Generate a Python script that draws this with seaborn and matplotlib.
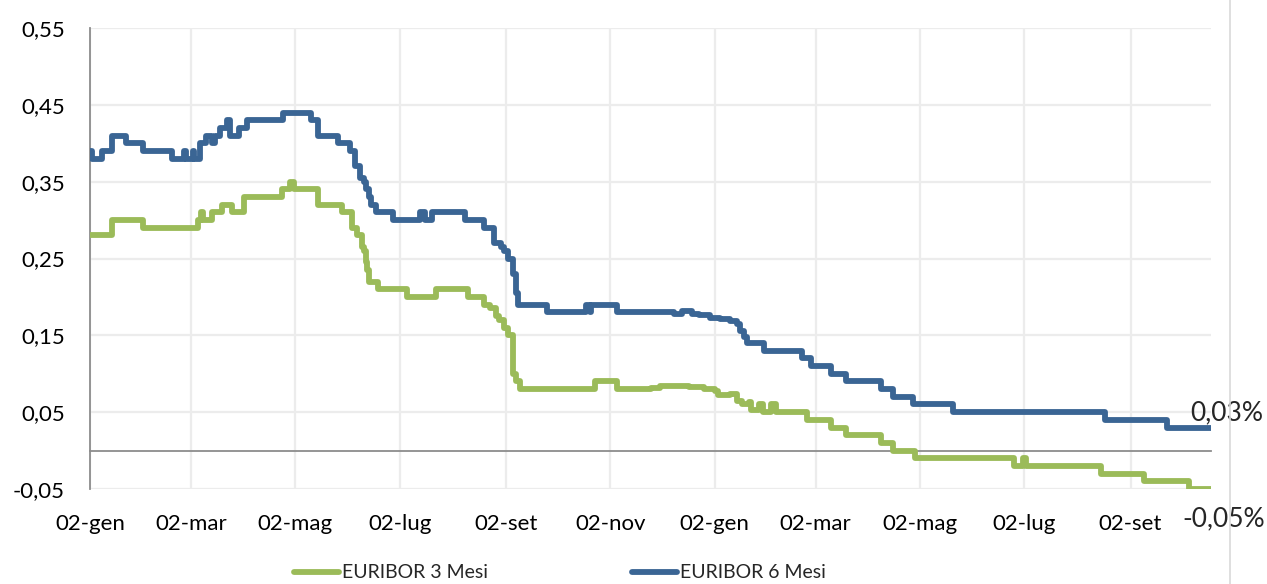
import matplotlib
matplotlib.use("Agg")
import matplotlib.pyplot as plt
import matplotlib.lines as mlines
import numpy as np
import pandas as pd
import seaborn as sns

# EURIBOR 6 Mesi (livelli, date di cambio)
blue_dates = ["2014-01-02", "2014-01-03", "2014-01-09", "2014-01-15", "2014-01-23", "2014-02-02",
              "2014-02-19", "2014-02-26", "2014-02-27", "2014-03-03", "2014-03-04", "2014-03-07",
              "2014-03-11", "2014-03-14", "2014-03-16", "2014-03-19", "2014-03-23", "2014-03-25",
              "2014-03-30", "2014-04-04", "2014-04-25", "2014-05-11", "2014-05-15", "2014-05-27",
              "2014-06-03", "2014-06-06", "2014-06-09", "2014-06-11", "2014-06-12", "2014-06-14",
              "2014-06-15", "2014-06-18", "2014-06-28", "2014-07-14", "2014-07-17", "2014-07-21",
              "2014-08-09", "2014-08-20", "2014-08-26", "2014-08-30", "2014-09-01", "2014-09-03",
              "2014-09-06", "2014-09-08", "2014-09-09", "2014-09-26", "2014-10-19", "2014-10-21",
              "2014-10-22", "2014-11-06", "2014-12-04", "2014-12-09", "2014-12-14", "2014-12-20",
              "2014-12-24", "2014-12-30", "2015-01-05", "2015-01-11", "2015-01-15", "2015-01-17",
              "2015-01-19", "2015-01-21", "2015-01-31", "2015-02-22", "2015-02-27", "2015-03-11",
              "2015-03-20", "2015-04-09", "2015-04-16", "2015-04-28", "2015-05-21", "2015-08-18",
              "2015-09-23", "2015-10-19"]
blue_vals = [0.39, 0.38, 0.39, 0.41, 0.40, 0.39,
             0.38, 0.39, 0.38, 0.39, 0.38, 0.40,
             0.41, 0.40, 0.41, 0.42, 0.43, 0.41,
             0.42, 0.43, 0.44, 0.43, 0.41, 0.40,
             0.39, 0.37, 0.355, 0.35, 0.34, 0.33,
             0.32, 0.31, 0.30, 0.31, 0.30, 0.31,
             0.30, 0.29, 0.27, 0.265, 0.26, 0.25,
             0.23, 0.205, 0.19, 0.18, 0.19, 0.18,
             0.19, 0.18, 0.181, 0.178, 0.182, 0.178,
             0.176, 0.173, 0.171, 0.169, 0.165, 0.155,
             0.148, 0.14, 0.13, 0.12, 0.11, 0.10,
             0.09, 0.08, 0.07, 0.06, 0.05, 0.04,
             0.03, 0.03]

# EURIBOR 3 Mesi
green_dates = ["2014-01-02", "2014-01-15", "2014-02-02", "2014-03-06", "2014-03-08", "2014-03-09",
               "2014-03-14", "2014-03-20", "2014-03-26", "2014-04-02", "2014-04-24", "2014-04-29",
               "2014-05-01", "2014-05-15", "2014-05-29", "2014-06-04", "2014-06-07", "2014-06-10",
               "2014-06-11", "2014-06-12", "2014-06-13", "2014-06-14", "2014-06-19", "2014-07-06",
               "2014-07-23", "2014-08-11", "2014-08-20", "2014-08-24", "2014-08-27", "2014-08-29",
               "2014-09-01", "2014-09-03", "2014-09-06", "2014-09-08", "2014-09-10", "2014-10-24",
               "2014-11-06", "2014-11-26", "2014-12-01", "2014-12-18", "2014-12-27", "2015-01-02",
               "2015-01-04", "2015-01-11", "2015-01-15", "2015-01-18", "2015-01-22", "2015-01-23",
               "2015-01-28", "2015-01-30", "2015-02-04", "2015-02-07", "2015-02-25", "2015-03-11",
               "2015-03-20", "2015-04-09", "2015-04-16", "2015-04-29", "2015-06-26", "2015-07-01",
               "2015-07-03", "2015-08-16", "2015-09-10", "2015-10-06", "2015-10-19"]
green_vals = [0.28, 0.30, 0.29, 0.30, 0.31, 0.30,
              0.31, 0.32, 0.31, 0.33, 0.34, 0.35,
              0.34, 0.32, 0.31, 0.29, 0.28, 0.265,
              0.26, 0.245, 0.235, 0.22, 0.21, 0.20,
              0.21, 0.20, 0.19, 0.185, 0.175, 0.17,
              0.16, 0.15, 0.10, 0.09, 0.08, 0.09,
              0.08, 0.082, 0.084, 0.083, 0.08, 0.077,
              0.072, 0.074, 0.065, 0.06, 0.063, 0.053,
              0.06, 0.05, 0.06, 0.05, 0.04, 0.03,
              0.02, 0.01, 0.0, -0.01, -0.02, -0.01,
              -0.02, -0.03, -0.04, -0.05, -0.05]

series_names = ["EURIBOR 3 Mesi", "EURIBOR 6 Mesi"]
colors = ["#9BBB59", "#3A6594"]

tick_dates = ["2014-01-02", "2014-03-02", "2014-05-02", "2014-07-02", "2014-09-02", "2014-11-02",
              "2015-01-02", "2015-03-02", "2015-05-02", "2015-07-02", "2015-09-02"]
tick_labels = ["02-gen", "02-mar", "02-mag", "02-lug", "02-set", "02-nov",
               "02-gen", "02-mar", "02-mag", "02-lug", "02-set"]
y_ticks = [-0.05, 0.05, 0.15, 0.25, 0.35, 0.45, 0.55]

df = pd.concat([
    pd.DataFrame({"data": pd.to_datetime(green_dates), "valore": green_vals, "serie": series_names[0]}),
    pd.DataFrame({"data": pd.to_datetime(blue_dates), "valore": blue_vals, "serie": series_names[1]}),
], ignore_index=True)

sns.set_style("white")
plt.rcParams['font.family'] = ['Lato', 'DejaVu Sans']

W, H = 1267, 584
fig = plt.figure(figsize=(W / 100, H / 100), dpi=100)
ax = fig.add_axes([90 / W, 1 - 489 / H, (1211 - 90) / W, (489 - 28) / H])

sns.lineplot(data=df, x="data", y="valore", hue="serie", palette=colors,
             estimator=None, sort=False, drawstyle="steps-post",
             linewidth=4, ax=ax, zorder=3)
for ln in ax.lines:
    ln.set_linewidth(4.2)
    ln.set_solid_joinstyle("round")

ax.set_xlim(pd.Timestamp(green_dates[0]), pd.Timestamp(green_dates[-1]))
ax.set_ylim(-0.05, 0.55)
ax.set_yticks(y_ticks)
ax.set_yticklabels([f"{v:.2f}".replace(".", ",") for v in y_ticks])
ax.set_xticks(pd.to_datetime(tick_dates))
ax.set_xticklabels(tick_labels)
ax.set_xlabel("")
ax.set_ylabel("")

# griglia
ax.grid(True, color="#ececec", linewidth=1.6, zorder=0)
ax.set_axisbelow(True)

for s in ["top", "right"]:
    ax.spines[s].set_visible(False)
ax.spines["left"].set_color("#8c8c8c")
ax.spines["left"].set_linewidth(1.3)
ax.spines["bottom"].set_position(("data", 0))
ax.spines["bottom"].set_color("#8c8c8c")
ax.spines["bottom"].set_linewidth(1.3)

ax.tick_params(axis="y", direction="out", length=6, width=1.2, color="#8c8c8c",
               labelsize=16, pad=12, labelcolor="black")
ax.tick_params(axis="x", direction="out", length=6, width=1.2, color="#8c8c8c",
               labelsize=16, pad=40, labelcolor="black")

# etichette ultimo valore
last_6 = blue_vals[-1]
last_3 = green_vals[-1]
ax.annotate(f"{last_6:.2f}%".replace(".", ","), (pd.Timestamp(blue_dates[-1]), last_6),
            xytext=(16, 15), textcoords="offset pixels", ha="center", va="center",
            fontsize=19, annotation_clip=False)
ax.annotate(f"{last_3:.2f}%".replace(".", ","), (pd.Timestamp(green_dates[-1]), last_3),
            xytext=(13, -30), textcoords="offset pixels", ha="center", va="center",
            fontsize=19, annotation_clip=False)

# bordo destro
fig.add_artist(mlines.Line2D([1230 / W, 1230 / W], [0, 1], color="#d9d9d9", linewidth=1.2))

sns.move_legend(ax, "center", bbox_to_anchor=((560 - 90) / (1211 - 90), (489 - 573) / (489 - 28)),
                ncol=2, frameon=False, title=None, fontsize=14,
                handlelength=2.3, handletextpad=0.15, columnspacing=7.4)
for h in ax.get_legend().get_lines():
    h.set_linewidth(4.2)

fig.savefig("out.png", dpi=100)
